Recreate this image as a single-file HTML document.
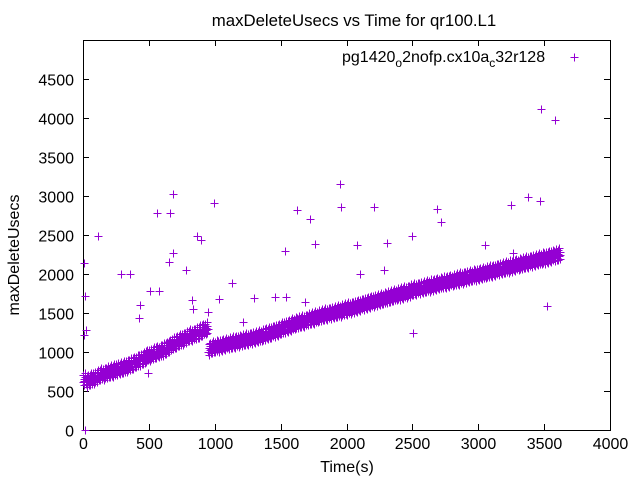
<!DOCTYPE html>
<html><head><meta charset="utf-8"><style>
html,body{margin:0;padding:0;background:#fff}
svg text{font-family:"Liberation Sans",sans-serif;font-size:16px;fill:#000}
</style></head><body>
<svg id="chart" width="640" height="480" viewBox="0 0 640 480">
<rect width="640" height="480" fill="#fff"/>
<text x="354" y="26" text-anchor="middle" style="font-size:16.8px">maxDeleteUsecs vs Time for qr100.L1</text>
<text x="347" y="472" text-anchor="middle">Time(s)</text>
<text transform="translate(19,255) rotate(-90)" text-anchor="middle">maxDeleteUsecs</text>
<g id="axes"></g>
<g id="marks"></g>
<g>
<text x="342" y="62">pg1420<tspan dy="5" font-size="12">o</tspan><tspan dy="-5">2nofp.cx10a</tspan><tspan dy="5" font-size="12">c</tspan><tspan dy="-5">32r128</tspan></text>
<path d="M570.5 57.5h8M574.5 53.5v8" stroke="#9400d3" stroke-width="1"/>
</g>
</svg>
<script>
const xTicks=[0,500,1000,1500,2000,2500,3000,3500,4000];
const yTicks=[0,500,1000,1500,2000,2500,3000,3500,4000,4500];
const bandStart1=0;
const bandValues1=[650,630,650,670,690,710,720,740,750,760,780,790,800,820,840,860,880,900,920,950,960,980,1000,1010,1030,1050,1080,1110,1130,1150,1170,1190,1210,1220,1240,1260,1280,1300];
const bandStart2=950;
const bandValues2=[1040,1060,1070,1080,1090,1100,1110,1120,1130,1140,1150,1160,1170,1180,1190,1200,1215,1230,1240,1255,1270,1285,1300,1320,1335,1350,1365,1380,1390,1400,1420,1430,1440,1455,1470,1480,1490,1500,1510,1520,1530,1545,1555,
1567,1580,1592,1604,1616,1628,1640,1652,1664,1676,1688,1700,1712,1724,1736,1748,1760,1772,1786,1800,
1810,1820,1830,1840,1850,1860,1870,1880,1890,1900,1910,1920,1930,1940,1950,1960,1970,1980,1990,2000,
2010,2020,2031,2041,2052,2062,2073,2083,2094,2104,2115,2125,2135,2146,2156,2167,2177,2188,2198,2208,2219,2229,2240,2250];
const bandStep=25;
const bandSpread=[-40,60,-75,10,-20,80,35,-55,0];
const outlierTimes=[3480,3580,1950,680,560,660,995,3380,2685,2720,1625,1720,1960,2210,3250,3470,10,115,2500,290,360,15,510,575,865,895,780,1130,1530,1760,2080,2305,2285,3050,3260,650,430,425,1030,1300,1215,1460,1685,2505,3520,15,205,493,835,830,950,8,20,680,2100,1540];
const outlierValues=[4115,3975,3150,3025,2780,2780,2910,2990,2830,2670,2820,2700,2860,2860,2890,2940,2140,2490,2490,2000,2000,1720,1780,1780,2490,2440,2050,1880,2300,2390,2370,2400,2050,2370,2270,2160,1600,1440,1680,1690,1385,1700,1640,1245,1590,0,795,730,1550,1670,1510,1220,1280,2270,2000,1700];

const PL=83,PR=610,PB=430,PT=40;
const xS=v=>PL+(v/4000)*(PR-PL);
const yS=v=>PB-(v/500)*39;
const NS="http://www.w3.org/2000/svg";
const axesG=document.getElementById('axes');
const marksG=document.getElementById('marks');
function mk(tag,attrs,parent){const e=document.createElementNS(NS,tag);for(const k in attrs)e.setAttribute(k,attrs[k]);parent.appendChild(e);return e;}
const frame=mk('rect',{x:PL+0.5,y:PT+0.5,width:PR-PL,height:PB-PT,fill:'none',stroke:'#000','stroke-width':1},axesG);


xTicks.forEach(t=>{const x=Math.round(xS(t))+0.5;
 const p=mk('path',{d:`M${x} ${PB}v-6M${x} ${PT}v6`,stroke:'#000','stroke-width':1},axesG);
 
 
 const tx=mk('text',{x:x,y:PB+19,'text-anchor':'middle'},axesG);tx.textContent=t;
 
 });
yTicks.forEach(t=>{const y=Math.round(yS(t))+0.5;
 const p=mk('path',{d:`M${PL} ${y}h6M${PR} ${y}h-6`,stroke:'#000','stroke-width':1},axesG);
 
 
 const tx=mk('text',{x:PL-9,y:y+6,'text-anchor':'end'},axesG);tx.textContent=t;
 
 });
let d='';
function plus(t,v){const x=Math.round(xS(t))+0.5,y=Math.round(yS(v))+0.5;d+=`M${x-4} ${y}h8M${x} ${y-4}v8`;}
function band(start,vals){vals.forEach((v,i)=>{bandSpread.forEach((s,j)=>{plus(start+i*bandStep+j*2.8,v+s);});});}
band(bandStart1,bandValues1);
band(bandStart2,bandValues2);
outlierTimes.forEach((t,i)=>plus(t,outlierValues[i]));
const pts=mk('path',{d:d,stroke:'#9400d3','stroke-width':1,fill:'none'},marksG);


</script>
</body></html>
